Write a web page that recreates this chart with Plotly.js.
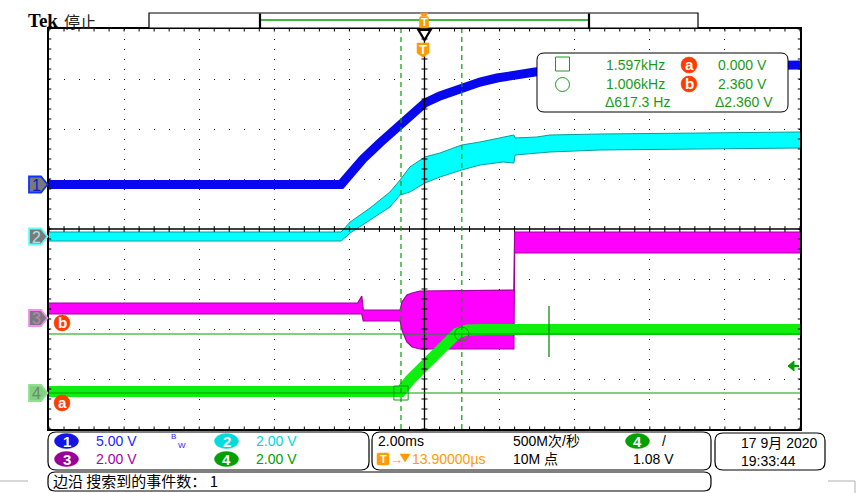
<!DOCTYPE html>
<html><head><meta charset="utf-8">
<script src="https://cdn.plot.ly/plotly-3.0.1.min.js"></script>
<style>html,body{margin:0;padding:0;background:#fff;}#chart{width:856px;height:493px;}</style>
</head><body><div id="chart"></div>
<script>
// ---------- data (time in ms, values in volts) ----------
const chScale = [5, 2, 2, 2];          // V/div
const chPos = [0.89, -0.15, -1.78, -3.28]; // ground position, divisions

const ch1Time = [-10, -2.22, -2.12, -1.64, -1.19, -0.65, -0.31, 0.01, 0.41, 1.0, 1.48, 1.93, 2.46, 2.94, 4.67, 7.34, 10];
const ch1Volt = [0, 0, 0.45, 2.55, 4.15, 5.95, 7.25, 8.15, 8.85, 9.75, 10.25, 10.65, 11.05, 11.25, 11.65, 11.85, 11.95];

const ch2Time = [-10, -2.22, -1.98, -1.45, -0.92, -0.65, -0.39, 0.01, 0.41, 0.99, 1.48, 2.09, 2.38, 2.41, 2.99, 3.34, 4.67, 7.34, 10];
const ch2High = [0.18, 0.18, 0.58, 1.14, 1.78, 2.26, 2.78, 3.18, 3.34, 3.66, 3.78, 3.98, 4.06, 3.94, 3.98, 4.06, 4.1, 4.14, 4.18];
const ch2Low  = [-0.18, -0.18, 0.14, 0.66, 1.18, 1.66, 1.78, 2.14, 2.38, 2.66, 2.86, 2.98, 2.94, 3.26, 3.34, 3.38, 3.46, 3.5, 3.54];

const ch3Time = [-10, -1.78, -1.67, -1.63, -0.65, -0.60, -0.47, -0.33, -0.12, 2.38, 2.40, 10];
const ch3High = [0.6, 0.6, 0.88, 0.32, 0.32, 0.64, 0.92, 1.0, 1.08, 1.12, 3.44, 3.44];
const ch3Low  = [0.16, 0.16, 0.16, -0.12, -0.12, -0.48, -0.96, -1.16, -1.24, -1.24, 2.6, 2.6];

const ch4Time = [-10, -0.63, -0.39, -0.04, 0.33, 0.68, 0.87, 1.13, 1.6, 10];
const ch4Volt = [0.06, 0.06, 0.52, 1.08, 1.56, 2.16, 2.4, 2.52, 2.54, 2.54];

const cursorTimeA = -0.626, cursorTimeB = 0.994;   // ms
const cursorVoltA = 0.0, cursorVoltB = 2.36;       // V (ch4)
const trigLevel = 1.08;                            // V (ch4)

const measLabels = ["1.597kHz", "1.006kHz", "\u0394617.3 Hz"];
const measVolts = ["0.000 V", "2.360 V", "\u03942.360 V"];
const chScaleLabels = ["5.00 V", "2.00 V", "2.00 V", "2.00 V"];

// ---------- helpers ----------
const L = 49, R = 800, T = 29, B = 429;
const X = x => (x - L) / (R - L);
const Y = y => (B - y) / (B - T);
const toDiv = (v, ch) => v / chScale[ch] + chPos[ch];

const shapes = [], ann = [];
const SANS = 'Liberation Sans, Arial, sans-serif';
const CJK = 'Noto Sans CJK SC, sans-serif';

function pline(x0, y0, x1, y1, color, width, dash) {
  shapes.push({type:'line', xref:'paper', yref:'paper', x0:X(x0), y0:Y(y0), x1:X(x1), y1:Y(y1),
    line:{color:color, width:width, dash:dash||'solid'}, layer:'above'});
}
function dline(x0, y0, x1, y1, color, width, dash) {
  shapes.push({type:'line', xref:'x', yref:'y', x0:x0, y0:y0, x1:x1, y1:y1,
    line:{color:color, width:width, dash:dash||'solid'}, layer:'above'});
}
function ppath(pts, fill, color, width) {
  let d = 'M' + pts.map(p => X(p[0]) + ',' + Y(p[1])).join(' L') + ' Z';
  shapes.push({type:'path', xref:'paper', yref:'paper', path:d, fillcolor:fill, line:{color:color, width:width}, layer:'above'});
}
function rr(x0, y0, x1, y1, r, fill, color, width) {
  const d = `M${X(x0+r)},${Y(y0)} L${X(x1-r)},${Y(y0)} Q${X(x1)},${Y(y0)} ${X(x1)},${Y(y0+r)} L${X(x1)},${Y(y1-r)} Q${X(x1)},${Y(y1)} ${X(x1-r)},${Y(y1)} L${X(x0+r)},${Y(y1)} Q${X(x0)},${Y(y1)} ${X(x0)},${Y(y1-r)} L${X(x0)},${Y(y0+r)} Q${X(x0)},${Y(y0)} ${X(x0+r)},${Y(y0)} Z`;
  shapes.push({type:'path', xref:'paper', yref:'paper', path:d, fillcolor:fill, line:{color:color, width:width}, layer:'above'});
}
function pcircle(cx, cy, rx, ry, fill, color, width) {
  shapes.push({type:'circle', xref:'paper', yref:'paper', x0:X(cx-rx), x1:X(cx+rx), y0:Y(cy+ry), y1:Y(cy-ry),
    fillcolor:fill, line:{color:color, width:width}, layer:'above'});
}
function txt(s, x, y, o) {
  o = o || {};
  ann.push({text:s, x:X(x), y:Y(y), xref:'paper', yref:'paper', showarrow:false,
    xanchor:o.anchor || 'left', yanchor:'middle', borderpad:0,
    font:{family:o.family || SANS, size:o.size || 14, color:o.color || '#000', weight:o.weight || 'normal'}});
}

// ---------- graticule ticks ----------
for (let k = -20; k <= 20; k++) {
  const y = k * 0.2;
  dline(-0.08, y, 0.08, y, '#000', 1);
  dline(-10, y, -9.94, y, '#000', 1);
  dline(9.94, y, 10, y, '#000', 1);
}
for (let k = -25; k <= 25; k++) {
  const x = k * 0.4;
  dline(x, -0.06, x, 0.06, '#000', 1);
  dline(x, 3.95, x, 4, '#000', 1);
  dline(x, -4, x, -3.95, '#000', 1);
}
// center cross
dline(0, -4, 0, 4, '#000', 1.3);
dline(-10, 0, 10, 0, '#000', 1.3);

// cursors
const cA = toDiv(cursorVoltA, 3), cB = toDiv(cursorVoltB, 3);
dline(cursorTimeA, -4, cursorTimeA, 4, '#00a000', 1.2, '5px,4px');
dline(cursorTimeB, -4, cursorTimeB, 4, '#00a000', 1.2, '5px,4px');
dline(-10, cA, 10, cA, '#00a000', 1);
dline(-10, cB, 10, cB, '#00a000', 1);
shapes.push({type:'rect', xref:'x', yref:'y', x0:cursorTimeA-0.19, x1:cursorTimeA+0.19, y0:cA-0.14, y1:cA+0.14,
  line:{color:'#00a000', width:1}, layer:'above'});
shapes.push({type:'circle', xref:'x', yref:'y', x0:cursorTimeB-0.19, x1:cursorTimeB+0.19, y0:cB-0.14, y1:cB+0.14,
  line:{color:'#00a000', width:1}, layer:'above'});
// small vertical mark
pline(549, 306, 549, 357, '#008000', 1.2);
// trigger level arrow (right edge)
const tl = 229 - toDiv(trigLevel, 3) * 50;
ppath([[788, tl], [794, tl - 5], [794, tl + 5]], '#00a000', '#00a000', 1);
pline(794, tl, 799, tl, '#00a000', 2);

// ---------- header ----------
txt('Tek', 27, 21, {family:'Liberation Serif, serif', size:19, weight:'bold'});
txt('停止', 63, 21, {family:CJK, size:16, color:'#222'});
shapes.push({type:'rect', xref:'paper', yref:'paper', x0:X(149), x1:X(698), y0:Y(28), y1:Y(13), line:{color:'#000', width:1.2}, fillcolor:'#fff', layer:'above'});
pline(260, 20, 589, 20, '#00a000', 1.5);
pline(260, 13.5, 260, 28, '#000', 2.2);
pline(589, 13.5, 589, 28, '#000', 2.2);
// header trigger T
ppath([[420, 13], [428, 13], [426, 16], [422, 16]], '#ff9a00', '#ff9a00', 0.5);
rr(419.5, 16.5, 428.5, 28, 1.5, '#ff9a00', '#ff9a00', 0.5);
txt('T', 424, 22.5, {anchor:'center', size:11, color:'#fff', weight:'bold'});
// black inverted triangle
ppath([[418.5, 30], [430.5, 30], [424.5, 40]], '#fff', '#000', 2.2);
// trigger marker T
ppath([[417, 43], [429, 43], [429, 53], [423, 57.5], [417, 53]], '#ff9a00', '#ff9a00', 0.5);
txt('T', 423, 49.5, {anchor:'center', size:13, color:'#fff', weight:'bold'});

// ---------- channel markers (left) ----------
const mk = [
  {lab:'1', fill:'#7a7a7a', edge:'#1030ff', tc:'#0a1ad0'},
  {lab:'2', fill:'#7a7a7a', edge:'#60ffff', tc:'#a0e8e8'},
  {lab:'3', fill:'#7a7a7a', edge:'#f090f0', tc:'#c080c0'},
  {lab:'4', fill:'#80d080', edge:'#90e090', tc:'#6a8a6a'}
];
mk.forEach((m, i) => {
  const cy = 229 - chPos[i] * 50;
  ppath([[29, cy - 8], [41, cy - 8], [47.5, cy], [41, cy + 8], [29, cy + 8]], m.fill, m.edge, 1.8);
  txt(m.lab, 36, cy + 0.5, {anchor:'center', size:16, color:m.tc});
});
// cursor level labels a / b
function lab(ch, cx, cy, r) {
  pcircle(cx, cy, r, r, '#ff3c00', '#ff3c00', 0.5);
  txt(ch, cx, cy - 0.5, {anchor:'center', size:r * 1.9, color:'#fff', weight:'bold'});
}
lab('b', 62, 323, 8);
lab('a', 62, 403, 8);

// ---------- measurement box ----------
rr(537, 53, 788, 112, 7, '#fff', '#000', 1);
shapes.push({type:'rect', xref:'paper', yref:'paper', x0:X(555.5), x1:X(569.5), y0:Y(71), y1:Y(57), line:{color:'#1a9a1a', width:1}, layer:'above'});
pcircle(562.5, 84.5, 7, 7, 'rgba(0,0,0,0)', '#1a9a1a', 1);
const mg = '#1a9a1a';
txt(measLabels[0], 666, 65, {anchor:'right', color:mg});
txt(measLabels[1], 666, 84, {anchor:'right', color:mg});
txt(measLabels[2], 671, 102, {anchor:'right', color:mg});
lab('a', 689, 65, 8);
lab('b', 689, 84, 8);
txt(measVolts[0], 768, 65, {anchor:'right', color:mg});
txt(measVolts[1], 768, 84, {anchor:'right', color:mg});
txt(measVolts[2], 774, 102, {anchor:'right', color:mg});

// ---------- bottom panels ----------
rr(48, 432, 369, 470, 8, '#fff', '#000', 1.2);
rr(372, 432, 711, 470, 8, '#fff', '#000', 1.2);
rr(715, 433, 825, 470, 8, '#fff', '#000', 1.2);
rr(48, 472, 711, 491, 7, '#fff', '#000', 1.2);
function pill(n, cx, cy, col) {
  pcircle(cx, cy, 12, 7.5, col, col, 0.5);
  txt(n, cx, cy, {anchor:'center', size:15, color:'#fff', weight:'bold'});
}
pill('1', 66.5, 441, '#1414e6');
txt(chScaleLabels[0], 95, 441, {color:'#2424ff'});
txt('B', 170, 436, {size:8, color:'#2424ff'});
txt('W', 177, 445, {size:8, color:'#2424ff'});
pill('2', 226.5, 441, '#00dcdc');
txt(chScaleLabels[1], 255, 441, {color:'#00d8d8'});
pill('3', 66.5, 459, '#990099');
txt(chScaleLabels[2], 95, 459, {color:'#aa00aa'});
pill('4', 226.5, 459, '#00a000');
txt(chScaleLabels[3], 255, 459, {color:'#00a000'});

txt('2.00ms', 377, 441);
rr(377, 453, 389, 465, 1.5, '#ff9a00', '#ff9a00', 0.5);
txt('T', 383, 459, {anchor:'center', size:11, color:'#fff', weight:'bold'});
txt('\u2192', 389, 459, {size:13, color:'#ff9a00'});
ppath([[400, 454], [410, 454], [405, 462]], '#ff9a00', '#ff9a00', 0.5);
txt('13.90000\u00b5s', 411, 459, {color:'#ff9a00'});
txt('500M次/秒', 512, 441, {family:'Liberation Sans, Noto Sans CJK SC, sans-serif'});
txt('10M 点', 512, 459, {family:'Liberation Sans, Noto Sans CJK SC, sans-serif'});
pill('4', 637.5, 441, '#00a000');
txt('/', 661, 441, {size:14});
txt('1.08 V', 632, 459);
txt('17 9月 2020', 740, 443, {family:'Liberation Sans, Noto Sans CJK SC, sans-serif'});
txt('19:33:44', 740, 461);
txt('边沿 搜索到的事件数： 1', 52, 481, {family:CJK, size:15});

// stray window edges
pline(0, 481, 28, 481, '#b0b0b0', 1);
pline(828, 481, 855, 481, '#b0b0b0', 1);
pline(855, 481, 855, 493, '#b0b0b0', 1);

// ---------- traces ----------
const traces = [
  {x:ch1Time, y:ch1Volt.map(v => toDiv(v, 0)), mode:'lines', line:{color:'#0808ee', width:9}, hoverinfo:'skip'},
  {x:ch2Time, y:ch2High.map(v => toDiv(v, 1)), mode:'lines', line:{color:'#0a9c9c', width:1}, hoverinfo:'skip'},
  {x:ch2Time, y:ch2Low.map(v => toDiv(v, 1)), mode:'lines', fill:'tonexty', fillcolor:'#00ffff', line:{color:'#0a9c9c', width:1}, hoverinfo:'skip'},
  {x:ch3Time, y:ch3High.map(v => toDiv(v, 2)), mode:'lines', line:{color:'#a000a0', width:1.2}, hoverinfo:'skip'},
  {x:ch3Time, y:ch3Low.map(v => toDiv(v, 2)), mode:'lines', fill:'tonexty', fillcolor:'#ff00ff', line:{color:'#a000a0', width:1.2}, hoverinfo:'skip'},
  {x:ch4Time, y:ch4Volt.map(v => toDiv(v, 3)), mode:'lines', line:{color:'#10ee10', width:11}, hoverinfo:'skip'}
];

const layout = {
  width:856, height:493, autosize:false,
  margin:{l:L, r:856 - R, t:T, b:493 - B, pad:0},
  paper_bgcolor:'#fff', plot_bgcolor:'#fff', showlegend:false,
  xaxis:{range:[-10, 10], dtick:2, tick0:0, showgrid:true, gridcolor:'#000', gridwidth:1, griddash:'1px,9px',
    zeroline:false, showline:true, mirror:true, linecolor:'#000', linewidth:2, showticklabels:false, ticks:'', fixedrange:true},
  yaxis:{range:[-4, 4], dtick:1, tick0:0, showgrid:true, gridcolor:'#000', gridwidth:1, griddash:'1px,14px',
    zeroline:false, showline:true, mirror:true, linecolor:'#000', linewidth:2, showticklabels:false, ticks:'', fixedrange:true},
  shapes:shapes, annotations:ann
};
Plotly.newPlot('chart', traces, layout, {staticPlot:true, displayModeBar:false});
</script></body></html>
